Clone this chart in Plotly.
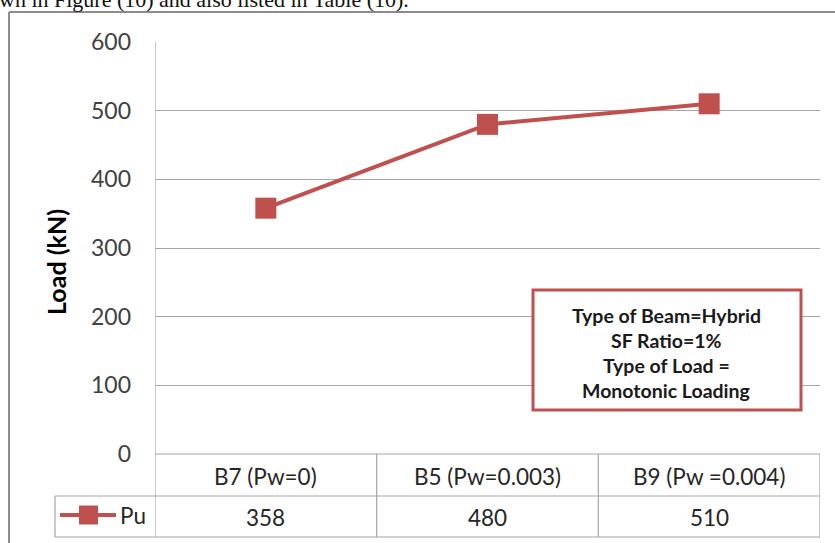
import plotly.graph_objects as go

# Beam specimens and their ultimate loads
categories = ["B7 (Pw=0)", "B5 (Pw=0.003)", "B9 (Pw =0.004)"]
pu_values = [358, 480, 510]
series_name = "Pu"
y_ticks = [0, 100, 200, 300, 400, 500, 600]
info_lines = ["Type of Beam=Hybrid", "SF Ratio=1%", "Type of Load =", "Monotonic Loading"]

W, H = 835, 543
RED = "#C0504D"
GRID = "#A6A6A6"
FONT = "Lato, Carlito, Calibri, sans-serif"
CELL_FONT = dict(family=FONT, size=22.5, color="#262626")


def px_x(p):
    return p / W


def px_y(p):
    return 1 - p / H


# plot-area pixel box
X0, X1 = 155, 820
Y_TOP, Y_ZERO = 42, 454
ROW1, ROW2 = 496, 537
KEY_LEFT = 55

xs = list(range(len(categories)))

fig = go.Figure()
fig.add_trace(go.Scatter(
    x=xs, y=pu_values, mode="lines+markers", name=series_name,
    line=dict(color=RED, width=4),
    marker=dict(symbol="square", size=21, color=RED),
    showlegend=False, cliponaxis=False,
))

shapes = []
annotations = []

# outer chart frame
shapes.append(dict(type="line", xref="paper", yref="paper",
                   x0=px_x(9), x1=px_x(9), y0=px_y(12), y1=px_y(560),
                   line=dict(color="#8C8C8C", width=2)))
shapes.append(dict(type="line", xref="paper", yref="paper",
                   x0=px_x(9), x1=px_x(850), y0=px_y(12), y1=px_y(12),
                   line=dict(color="#8C8C8C", width=2)))

tl = dict(color=GRID, width=1.2)
# zero line / top of the data table
shapes.append(dict(type="line", xref="paper", yref="paper",
                   x0=px_x(X0), x1=px_x(X1), y0=px_y(Y_ZERO), y1=px_y(Y_ZERO), line=tl))
# table horizontal rules
for yy in [ROW1, ROW2]:
    shapes.append(dict(type="line", xref="paper", yref="paper",
                       x0=px_x(KEY_LEFT), x1=px_x(X1), y0=px_y(yy), y1=px_y(yy), line=tl))
# table vertical rules at category boundaries
n = len(categories)
for b in [i - 0.5 for i in range(n + 1)]:
    top = Y_TOP if b == -0.5 else Y_ZERO
    shapes.append(dict(type="line", xref="x", yref="paper",
                       x0=b, x1=b, y0=px_y(top), y1=px_y(ROW2), line=tl))
shapes.append(dict(type="line", xref="paper", yref="paper",
                   x0=px_x(KEY_LEFT), x1=px_x(KEY_LEFT), y0=px_y(ROW1), y1=px_y(ROW2), line=tl))

# legend key inside the table
shapes.append(dict(type="line", xref="paper", yref="paper",
                   x0=px_x(60), x1=px_x(116), y0=px_y(515), y1=px_y(515),
                   line=dict(color=RED, width=4)))
shapes.append(dict(type="rect", xref="paper", yref="paper",
                   x0=px_x(79), x1=px_x(98), y0=px_y(505.5), y1=px_y(524.5),
                   fillcolor=RED, line=dict(width=0)))
annotations.append(dict(text=series_name, xref="paper", yref="paper",
                        x=px_x(118), y=px_y(515), xanchor="left", yanchor="middle",
                        showarrow=False, font=CELL_FONT))

# table cells
for i, (c, v) in enumerate(zip(categories, pu_values)):
    annotations.append(dict(text=c, xref="x", yref="paper", x=i, y=px_y(476),
                            xanchor="center", yanchor="middle", showarrow=False,
                            font=CELL_FONT))
    annotations.append(dict(text=str(v), xref="x", yref="paper", x=i, y=px_y(517),
                            xanchor="center", yanchor="middle", showarrow=False,
                            font=CELL_FONT))

# info box
shapes.append(dict(type="rect", xref="paper", yref="paper",
                   x0=px_x(533), x1=px_x(801), y0=px_y(290), y1=px_y(410),
                   fillcolor="white", line=dict(color=RED, width=3), layer="above"))
for k, t in enumerate(info_lines):
    annotations.append(dict(text="<b>%s</b>" % t, xref="paper", yref="paper",
                            x=px_x(666), y=px_y(315 + k * 25.2),
                            xanchor="center", yanchor="middle", showarrow=False,
                            font=dict(family=FONT, size=19.5, color="#1a1a1a")))

# running text of the page above the chart
annotations.append(dict(text="wn in Figure (10) and also listed in Table (10).",
                        xref="paper", yref="paper", x=px_x(-3), y=px_y(14),
                        xanchor="left", yanchor="bottom", showarrow=False,
                        font=dict(family="Liberation Serif, Times New Roman, serif",
                                  size=22, color="#111")))

# y-axis title
annotations.append(dict(text="<b>Load (kN)</b>", xref="paper", yref="paper",
                        x=px_x(56), y=px_y(262), textangle=-90,
                        xanchor="center", yanchor="middle", showarrow=False,
                        font=dict(family=FONT, size=25, color="#000")))

fig.update_layout(
    width=W, height=H,
    margin=dict(l=0, r=0, t=0, b=0, autoexpand=False),
    paper_bgcolor="white", plot_bgcolor="white",
    shapes=shapes, annotations=annotations,
    xaxis=dict(domain=[px_x(X0), px_x(X1)], range=[-0.5, n - 0.5],
               showticklabels=False, showgrid=False, zeroline=False,
               showline=False, ticks="", automargin=False),
    yaxis=dict(domain=[px_y(Y_ZERO), px_y(Y_TOP)], range=[0, 600],
               tickvals=y_ticks, showgrid=True, gridcolor=GRID, gridwidth=1.2,
               zeroline=False, showline=False, ticks="", automargin=False,
               ticklabelstandoff=23,
               tickfont=dict(family=FONT, size=23, color="#404040")),
)

fig.write_html("out.html")
